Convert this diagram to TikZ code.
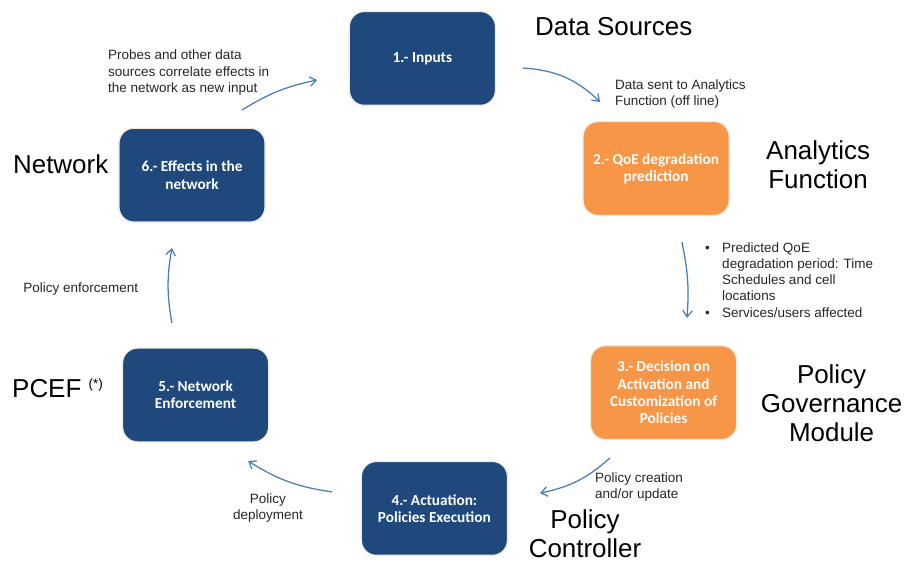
\documentclass[tikz,border=0pt]{standalone}
\usepackage{fontspec}
\setmainfont{Liberation Sans}
\newfontfamily\stagefont{Carlito}
\usetikzlibrary{arrows.meta}
\definecolor{stageblue}{HTML}{1F497D}
\definecolor{stageorange}{HTML}{F79646}
\definecolor{stagerim}{HTML}{EEECE1}
\definecolor{flowblue}{HTML}{4A7EBB}
\tikzset{
    stage/.style={rounded corners=0.5cm, minimum width=4.87cm, minimum height=3.13cm,
        draw=stagerim, line width=1.2pt, text=white, align=center, inner sep=2pt,
        font=\stagefont\bfseries\fontsize{14.5}{16.4}\selectfont},
    role/.style={inner sep=0pt, align=center, font=\fontsize{24.6}{27.5}\selectfont},
    note/.style={inner sep=0pt, align=left, text=black!85, font=\fontsize{12.8}{15.4}\selectfont},
    flow/.style={draw=flowblue, line width=1.2pt, -{Straight Barb[length=6pt,width=9pt]}},
}

\begin{document}
\begin{tikzpicture}
    \useasboundingbox (0,0) rectangle (30.2,18.767);
    % the six stages
    \node[stage, fill=stageblue] (inputs) at (14.08,16.82) {1.- Inputs};
    \node[stage, fill=stageorange] (qoe) at (21.87,13.15) {2.- QoE degradation\\prediction};
    \node[stage, fill=stageorange] (decision) at (22.12,5.68) {3.- Decision on\\Activation and\\Customization of\\Policies};
    \node[stage, fill=stageblue] (actuation) at (14.48,1.82) {4.- Actuation:\\Policies Execution};
    \node[stage, fill=stageblue] (enforce) at (6.52,5.6) {5.- Network\\Enforcement};
    \node[stage, fill=stageblue] (effects) at (6.4,12.93) {6.- Effects in the\\network};

    % who does what
    \node[role, anchor=base west] (sources) at (17.83,17.6) {Data Sources};
    \node[role] (analytics) at (27.27,13.27) {Analytics\\Function};
    \node[role] (governance) at (27.72,5.33) {Policy\\Governance\\Module};
    \node[role] (controller) at (19.5,0.97) {Policy\\Controller};
    \node[role, anchor=base west] (pcef) at (0.4,5.53) {PCEF \raisebox{8.4pt}{\fontsize{12.8}{14}\selectfont(*)}};
    \node[role, anchor=base west] (network) at (0.43,13.0) {Network};

    % notes along the cycle
    \node[note, anchor=north west] (probes) at (3.6,17.1) {Probes and other data\\sources correlate effects in\\the network as new input};
    \node[note, anchor=north west] (sent) at (20.5,16.13) {Data sent to Analytics\\Function (off line)};
    \node[note, anchor=north west] (predicted) at (23.5,10.75) {%
        \begin{tabular}{@{}l@{\hspace{0.41cm}}l@{}}
            \textbullet & Predicted QoE\\
                        & degradation period: Time\\
                        & Schedules and cell\\
                        & locations\\
            \textbullet & Services/users affected
        \end{tabular}};
    \node[note, anchor=north west] (creation) at (19.83,3.03) {Policy creation\\and/or update};
    \node[note, align=center] (deployment) at (8.93,1.83) {Policy\\deployment};
    \node[note, anchor=base west] (enforcement) at (0.77,9.03) {Policy enforcement};

    % arrow ends
    \coordinate (f1s) at (17.43,16.5);  \coordinate (f1e) at (20.0,15.37);
    \coordinate (f2s) at (22.73,10.7);  \coordinate (f2e) at (22.9,8.17);
    \coordinate (f3s) at (20.33,3.5);   \coordinate (f3e) at (18.0,2.33);
    \coordinate (f4s) at (11.07,2.37);  \coordinate (f4e) at (8.27,3.4);
    \coordinate (f5s) at (5.73,8.0);    \coordinate (f5e) at (5.73,10.5);
    \coordinate (f6s) at (8.07,15.1);   \coordinate (f6e) at (10.57,16.1);

    \draw[flow] (f1s) to[bend left=20] (f1e);
    \draw[flow] (f2s) to[bend left=8] (f2e);
    \draw[flow] (f3s) to[bend left=15] (f3e);
    \draw[flow] (f4s) to[bend left=12] (f4e);
    \draw[flow] (f5s) to[bend left=10] (f5e);
    \draw[flow] (f6s) to[bend left=10] (f6e);
\end{tikzpicture}
\end{document}
